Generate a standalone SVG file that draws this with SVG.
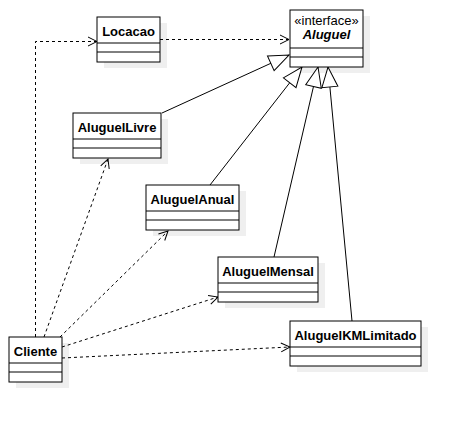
<svg xmlns="http://www.w3.org/2000/svg" width="461" height="422" viewBox="0 0 461 422">
<style>
.shadow{fill:#efefef;stroke:none}
.box{fill:#fff;stroke:#000;stroke-width:1}
.sep{stroke:#000;stroke-width:1;fill:none}
.t{font-family:"Liberation Sans",Arial,sans-serif;font-size:13px;font-weight:bold;text-anchor:middle;fill:#000}
.st{font-family:"Liberation Sans",Arial,sans-serif;font-size:13px;text-anchor:middle;fill:#000}
.dep{fill:none;stroke:#000;stroke-width:1;stroke-dasharray:3 3;marker-end:url(#open)}
.gen{fill:none;stroke:#000;stroke-width:1;marker-end:url(#tri)}
</style>
<defs>
<marker id="open" markerUnits="userSpaceOnUse" markerWidth="12" markerHeight="12" refX="9" refY="5" orient="auto" viewBox="0 0 12 12" overflow="visible">
<path d="M0,0.5 L9,5 L0,9.5" fill="none" stroke="#000" stroke-width="1"/>
</marker>
<marker id="tri" markerUnits="userSpaceOnUse" markerWidth="22" markerHeight="18" refX="20" refY="8" orient="auto" viewBox="0 0 22 18" overflow="visible">
<path d="M0,0 L20,8 L0,16 Z" fill="#fff" stroke="#000" stroke-width="1"/>
</marker>
</defs>
<g id="shadows">
<rect class="shadow" x="104" y="23" width="63" height="45"/>
<rect class="shadow" x="297" y="16" width="73" height="57"/>
<rect class="shadow" x="80" y="119" width="88" height="45"/>
<rect class="shadow" x="153" y="191" width="93" height="45"/>
<rect class="shadow" x="225" y="263" width="100" height="45"/>
<rect class="shadow" x="297" y="327" width="131" height="45"/>
<rect class="shadow" x="16" y="343" width="53" height="45"/>
</g>
<g id="connectors">
<path class="dep" d="M160 39.5 L289 39.5"/>
<path class="dep" d="M35.5 337 V41.5 H97"/>
<path class="dep" d="M44 337 L108 159"/>
<path class="dep" d="M60 337 L168 231"/>
<path class="dep" d="M62 347 L218 297"/>
<path class="dep" d="M62 358 L290 347"/>
<path class="gen" d="M162 113 L289 55"/>
<path class="gen" d="M210 185 L302 67"/>
<path class="gen" d="M274 257 L318 67"/>
<path class="gen" d="M352 321 L328 67"/>
</g>
<g id="Locacao">
<rect class="box" x="97" y="17" width="63" height="45"/>
<path class="sep" d="M97 43 H160 M97 52 H160"/>
<text class="t" x="128.5" y="36">Locacao</text>
</g>
<g id="Aluguel">
<rect class="box" x="290" y="10" width="73" height="57"/>
<path class="sep" d="M290 48 H363 M290 57 H363"/>
<text class="st" x="326.5" y="25">«interface»</text>
<text class="t" x="326.5" y="39" font-style="italic">Aluguel</text>
</g>
<g id="AluguelLivre">
<rect class="box" x="73" y="113" width="88" height="45"/>
<path class="sep" d="M73 139 H161 M73 148 H161"/>
<text class="t" x="117" y="132">AluguelLivre</text>
</g>
<g id="AluguelAnual">
<rect class="box" x="146" y="185" width="93" height="45"/>
<path class="sep" d="M146 211 H239 M146 220 H239"/>
<text class="t" x="192.5" y="204">AluguelAnual</text>
</g>
<g id="AluguelMensal">
<rect class="box" x="218" y="257" width="100" height="45"/>
<path class="sep" d="M218 283 H318 M218 292 H318"/>
<text class="t" x="268" y="276">AluguelMensal</text>
</g>
<g id="AluguelKMLimitado">
<rect class="box" x="290" y="321" width="131" height="45"/>
<path class="sep" d="M290 347 H421 M290 356 H421"/>
<text class="t" x="355.5" y="340">AluguelKMLimitado</text>
</g>
<g id="Cliente">
<rect class="box" x="9" y="337" width="53" height="45"/>
<path class="sep" d="M9 363 H62 M9 372 H62"/>
<text class="t" x="35.5" y="355.5">Cliente</text>
</g>
</svg>
